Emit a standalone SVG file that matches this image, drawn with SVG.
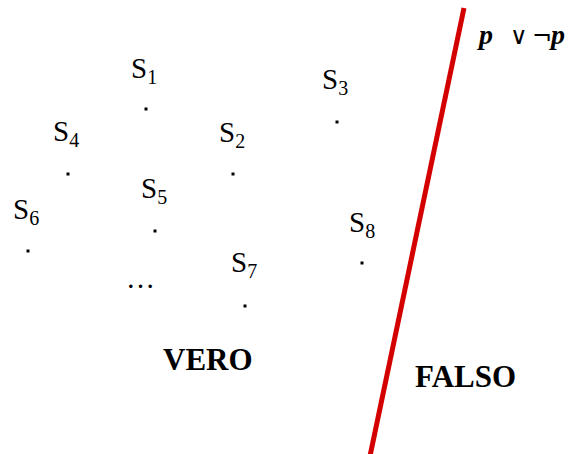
<svg xmlns="http://www.w3.org/2000/svg" width="574" height="454" viewBox="0 0 574 454">
<style>
.s{font-family:"Liberation Serif","Times New Roman",serif;font-size:29px;fill:#000}
.sub{font-size:20px}
.b{font-family:"Liberation Serif","Times New Roman",serif;font-size:31px;font-weight:bold;fill:#000}
.f{font-family:"Liberation Serif","Times New Roman",serif;font-size:28px;fill:#000}
.op{font-family:"DejaVu Sans",sans-serif;font-size:24px}
.dot{fill:#000}
</style>
<rect width="574" height="454" fill="#fff"/>
<g id="divider">
<line x1="464" y1="8" x2="370" y2="456" stroke="#d40000" stroke-width="5"/>
</g>
<g id="connectors"></g>
<g id="s1"><text class="s" x="131" y="78">S<tspan class="sub" dy="6">1</tspan></text><rect class="dot" x="144.5" y="107.5" width="3" height="3"/></g>
<g id="s2"><text class="s" x="219" y="142">S<tspan class="sub" dy="6">2</tspan></text><rect class="dot" x="231.5" y="172.5" width="3" height="3"/></g>
<g id="s3"><text class="s" x="322" y="89">S<tspan class="sub" dy="6">3</tspan></text><rect class="dot" x="335.5" y="120.5" width="3" height="3"/></g>
<g id="s4"><text class="s" x="53" y="141">S<tspan class="sub" dy="6">4</tspan></text><rect class="dot" x="66.5" y="172.5" width="3" height="3"/></g>
<g id="s5"><text class="s" x="141" y="198">S<tspan class="sub" dy="6">5</tspan></text><rect class="dot" x="153.5" y="229.5" width="3" height="3"/></g>
<g id="s6"><text class="s" x="13" y="219">S<tspan class="sub" dy="6">6</tspan></text><rect class="dot" x="26.5" y="249.5" width="3" height="3"/></g>
<g id="s7"><text class="s" x="231" y="272">S<tspan class="sub" dy="6">7</tspan></text><rect class="dot" x="243.5" y="304.5" width="3" height="3"/></g>
<g id="s8"><text class="s" x="349" y="232">S<tspan class="sub" dy="6">8</tspan></text><rect class="dot" x="360.5" y="261.5" width="3" height="3"/></g>
<g id="ellipsis"><text class="s" x="126" y="288">…</text></g>
<g id="vero"><text class="b" x="163" y="370">VERO</text></g>
<g id="falso"><text class="b" x="415" y="387">FALSO</text></g>
<g id="formula"><text class="f" y="44"><tspan x="479" font-weight="bold" font-style="italic">p</tspan><tspan class="op" x="510">∨</tspan><tspan class="op" x="532">¬</tspan><tspan x="551" font-weight="bold" font-style="italic">p</tspan></text></g>
</svg>
